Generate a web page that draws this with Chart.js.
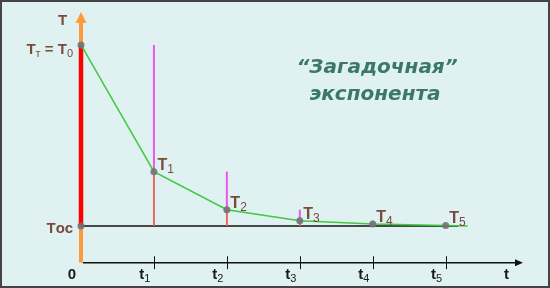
<!DOCTYPE html>
<html>
<head>
<meta charset="utf-8">
<script src="https://cdn.jsdelivr.net/npm/chart.js@4"></script>
<style>
html, body { margin: 0; padding: 0; background: #dff1f1; }
canvas { display: block; }
</style>
</head>
<body>
<canvas id="chart" width="550" height="288"></canvas>
<script>
// moments of time (one step = t1)
const times = [0, 1, 2, 3, 4, 5];
// labels under the time axis: letter + subscript
const timeLabels = [['0', ''], ['t', '1'], ['t', '2'], ['t', '3'], ['t', '4'], ['t', '5']];
// body temperature, Toc taken as 0 and T0 as 100
const temps = [100, 30, 9, 2.9, 1.1, 0.2];
// labels next to the points
const pointLabels = [null, ['T', '1'], ['T', '2'], ['T', '3'], ['T', '4'], ['T', '5']];
// the curve goes a bit further than t5
const tailTime = 5.3;
const tailTemp = 0;
// environment temperature and how far its line goes
const envTemp = 0;
const envLineEnd = 5.17;

const brown = '#7a4a3c';

function richText(ctx, parts, x, y, align, size) {
    // parts: [text, isSub]
    const fontOf = p => (p[1] ? Math.round(size * 0.72) + 'px' : 'bold ' + size + 'px') + ' "Liberation Sans", Arial, sans-serif';
    let w = 0;
    parts.forEach(p => {
        ctx.font = fontOf(p);
        w += ctx.measureText(p[0]).width;
    });
    let cx = align === 'right' ? x - w : x;
    ctx.textAlign = 'left';
    ctx.textBaseline = 'alphabetic';
    parts.forEach(p => {
        ctx.font = fontOf(p);
        ctx.fillText(p[0], cx, p[1] ? y + 2.5 : y);
        cx += ctx.measureText(p[0]).width;
    });
}

const backdrop = {
    id: 'backdrop',
    beforeDraw(chart) {
        const ctx = chart.ctx;
        ctx.save();
        ctx.fillStyle = '#dff1f1';
        ctx.fillRect(0, 0, chart.width, chart.height);
        ctx.strokeStyle = '#454545';
        ctx.lineWidth = 2;
        ctx.strokeRect(1, 1, chart.width - 2, chart.height - 2);
        ctx.restore();
    },
    beforeDatasetsDraw(chart) {
        const ctx = chart.ctx;
        const x = chart.scales.x, y = chart.scales.y;
        const x0 = x.getPixelForValue(0);
        const yBottom = y.getPixelForValue(y.min);
        const yTop = y.getPixelForValue(y.max);
        ctx.save();

        // orange T axis with arrow
        ctx.strokeStyle = '#ff9a3a';
        ctx.lineWidth = 4;
        ctx.beginPath();
        ctx.moveTo(x0, yBottom);
        ctx.lineTo(x0, yTop + 10);
        ctx.stroke();
        ctx.fillStyle = '#ff9a3a';
        ctx.beginPath();
        ctx.moveTo(x0, yTop);
        ctx.lineTo(x0 - 5.5, yTop + 11);
        ctx.lineTo(x0 + 5.5, yTop + 11);
        ctx.closePath();
        ctx.fill();

        // red segment between Toc and T0
        ctx.strokeStyle = '#ff0000';
        ctx.lineWidth = 4.5;
        ctx.beginPath();
        ctx.moveTo(x0, y.getPixelForValue(envTemp));
        ctx.lineTo(x0, y.getPixelForValue(temps[0]));
        ctx.stroke();

        // time axis with ticks and arrow
        const xEnd = x.getPixelForValue(x.max);
        ctx.strokeStyle = '#111';
        ctx.fillStyle = '#111';
        ctx.lineWidth = 1.5;
        ctx.beginPath();
        ctx.moveTo(x0 + 2, yBottom);
        ctx.lineTo(xEnd - 5, yBottom);
        ctx.stroke();
        ctx.beginPath();
        ctx.moveTo(xEnd, yBottom);
        ctx.lineTo(xEnd - 8, yBottom - 3.5);
        ctx.lineTo(xEnd - 8, yBottom + 3.5);
        ctx.closePath();
        ctx.fill();
        ctx.lineWidth = 1;
        times.slice(1).forEach(t => {
            const px = Math.round(x.getPixelForValue(t)) + 0.5;
            ctx.beginPath();
            ctx.moveTo(px, yBottom - 6.5);
            ctx.lineTo(px, yBottom + 6.5);
            ctx.stroke();
        });

        // environment line Toc
        ctx.strokeStyle = '#111';
        ctx.lineWidth = 1.5;
        ctx.beginPath();
        ctx.moveTo(x0, y.getPixelForValue(envTemp));
        ctx.lineTo(x.getPixelForValue(envLineEnd), y.getPixelForValue(envTemp));
        ctx.stroke();

        // drops: magenta = fall from previous value, red = rest above Toc
        for (let i = 1; i < times.length; i++) {
            const px = x.getPixelForValue(times[i]);
            ctx.strokeStyle = '#ee55ee';
            ctx.lineWidth = 2;
            ctx.beginPath();
            ctx.moveTo(px, y.getPixelForValue(temps[i - 1]));
            ctx.lineTo(px, y.getPixelForValue(temps[i]));
            ctx.stroke();
            ctx.strokeStyle = '#ee5a50';
            ctx.lineWidth = 1.8;
            ctx.beginPath();
            ctx.moveTo(px, y.getPixelForValue(temps[i]));
            ctx.lineTo(px, y.getPixelForValue(envTemp));
            ctx.stroke();
        }
        ctx.restore();
    },
    afterDatasetsDraw(chart) {
        const ctx = chart.ctx;
        const x = chart.scales.x, y = chart.scales.y;
        const x0 = x.getPixelForValue(0);
        const yBottom = y.getPixelForValue(y.min);
        ctx.save();

        // time tick labels
        ctx.fillStyle = '#1a1a1a';
        times.forEach((t, i) => {
            const px = x.getPixelForValue(t);
            const parts = [[timeLabels[i][0], false]];
            if (timeLabels[i][1]) parts.push([timeLabels[i][1], true]);
            richText(ctx, parts, px - (i === 0 ? 5 : 3.5), yBottom + 16.5, 'right', 15);
        });
        richText(ctx, [['t', false]], x.getPixelForValue(x.max) - 19, yBottom + 16.5, 'left', 15);

        // temperature labels
        ctx.fillStyle = brown;
        richText(ctx, [['T', false]], x0 - 23, y.getPixelForValue(y.max) + 13, 'left', 15);
        richText(ctx, [['T', false], ['т', true], [' = T', false], ['0', true]], x0 - 8, y.getPixelForValue(temps[0]) + 9.5, 'right', 15);
        richText(ctx, [['Т', false], ['ос', false]], x0 - 8, y.getPixelForValue(envTemp) + 7, 'right', 15);

        pointLabels.forEach((lab, i) => {
            if (!lab) return;
            const px = x.getPixelForValue(times[i]);
            const py = Math.min(y.getPixelForValue(temps[i]) - 1.5, 223);
            richText(ctx, [[lab[0], false], [lab[1], true]], px + 3.5, py, 'left', 16);
        });

        // title
        ctx.fillStyle = '#3b7868';
        ctx.textAlign = 'center';
        ctx.textBaseline = 'alphabetic';
        ctx.font = 'italic bold 20px "DejaVu Sans", sans-serif';
        ctx.fillText('\u201cЗагадочная\u201d', 377, 73);
        ctx.fillText('экспонента', 375, 100);
        ctx.restore();
    }
};

const curve = times.map((t, i) => ({ x: t, y: temps[i] }));
curve.push({ x: tailTime, y: tailTemp });
const dots = times.map((t, i) => ({ x: t, y: temps[i] }));
dots.push({ x: 0, y: envTemp });

new Chart(document.getElementById('chart'), {
    type: 'scatter',
    data: {
        datasets: [
            {
                data: dots,
                pointRadius: 3.5,
                pointBackgroundColor: 'rgba(115,115,115,0.9)',
                pointBorderWidth: 0,
                showLine: false,
                order: 0
            },
            {
                data: curve,
                showLine: true,
                borderColor: '#3ecb3e',
                borderWidth: 1.5,
                pointRadius: 0,
                tension: 0,
                order: 1
            }
        ]
    },
    options: {
        responsive: false,
        animation: false,
        devicePixelRatio: 1,
        layout: { padding: { left: 81, right: 27, top: 12, bottom: 25.3 } },
        scales: {
            x: { type: 'linear', min: 0, max: 6.06, display: false },
            y: { type: 'linear', min: -20.3, max: 118.2, display: false }
        },
        plugins: { legend: { display: false }, tooltip: { enabled: false } },
        elements: { point: { hoverRadius: 3.5 } },
        clip: false
    },
    plugins: [backdrop]
});
</script>
</body>
</html>
